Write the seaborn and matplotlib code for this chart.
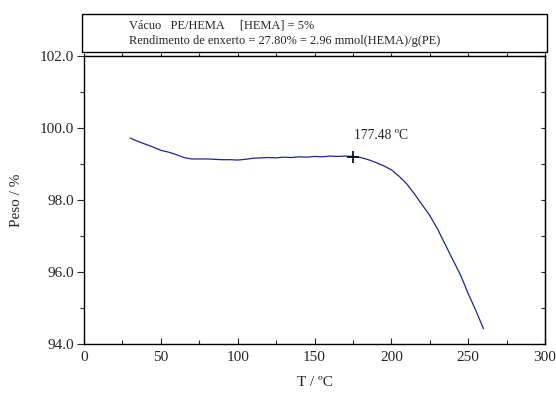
import matplotlib
matplotlib.use("Agg")
import matplotlib.pyplot as plt
from matplotlib.patches import Rectangle
from matplotlib.ticker import MultipleLocator, FormatStrFormatter, NullFormatter
import seaborn as sns
import pandas as pd

temperature = [30, 35, 40, 45, 50, 55, 60, 65, 70, 75, 80, 85, 90, 95, 100, 105, 110,
               115, 120, 125, 130, 135, 140, 145, 150, 155, 160, 165, 170, 175, 180,
               185, 190, 195, 200, 205, 210, 215, 220, 225, 230, 235, 240, 245, 250,
               255, 260]
weight = [99.72, 99.63, 99.55, 99.47, 99.38, 99.33, 99.26, 99.18, 99.14, 99.14, 99.14,
          99.13, 99.12, 99.12, 99.11, 99.13, 99.16, 99.17, 99.18, 99.17, 99.19, 99.18,
          99.20, 99.19, 99.21, 99.20, 99.22, 99.21, 99.22, 99.21, 99.18, 99.12, 99.04,
          98.95, 98.84, 98.66, 98.45, 98.17, 97.87, 97.57, 97.20, 96.77, 96.34, 95.92,
          95.40, 94.93, 94.42]
marker_t = 175.0
marker_w = 99.19
marker_label = "177.48 ºC"
legend_lines = ["Vácuo   PE/HEMA     [HEMA] = 5%",
                "Rendimento de enxerto = 27.80% = 2.96 mmol(HEMA)/g(PE)"]

df = pd.DataFrame({"T": temperature, "Peso": weight})

sns.set_style("ticks")
plt.rcParams["font.family"] = ["Liberation Serif", "DejaVu Serif"]

fig = plt.figure(figsize=(5.56, 3.94), dpi=100)
ax = fig.add_axes([84/556, 50/394, 461/556, 288/394])

sns.lineplot(data=df, x="T", y="Peso", ax=ax, color="#2222a0", linewidth=0.9)
ax.plot([marker_t], [marker_w], marker="+", color="black", markersize=8, mew=1.2)
ax.annotate(marker_label, (marker_t, marker_w), xytext=(193, 99.8),
            ha="center", va="center", fontsize=9.8)

ax.set_xlim(0, 300)
ax.set_ylim(94, 102)
ax.xaxis.set_major_locator(MultipleLocator(50))
ax.xaxis.set_minor_locator(MultipleLocator(25))
ax.yaxis.set_major_locator(MultipleLocator(2))
ax.yaxis.set_minor_locator(MultipleLocator(1))
ax.yaxis.set_major_formatter(FormatStrFormatter("%.1f"))

for s in ax.spines.values():
    s.set_linewidth(1.0)
    s.set_color("black")

ax.tick_params(axis="x", which="major", direction="in", length=4, width=0.8,
               labelsize=11, pad=5)
ax.tick_params(axis="x", which="minor", direction="in", length=3, width=0.8)
ax.tick_params(axis="y", which="major", direction="out", length=5, width=0.8,
               labelsize=11, pad=2)
ax.tick_params(axis="y", which="minor", direction="out", length=3, width=0.8)

# right-side ticks (inward) and top ticks (outward)
axr = ax.secondary_yaxis("right")
axr.yaxis.set_major_locator(MultipleLocator(1))
axr.yaxis.set_major_formatter(NullFormatter())
axr.tick_params(axis="y", direction="in", length=3, width=0.8)
axt = ax.secondary_xaxis("top")
axt.xaxis.set_major_locator(MultipleLocator(25))
axt.xaxis.set_major_formatter(NullFormatter())
axt.tick_params(axis="x", direction="out", length=2, width=0.8)

ax.set_xlabel("T / ºC", fontsize=11, labelpad=9)
ax.set_ylabel("Peso / %", fontsize=11, labelpad=12)

box = Rectangle((82/556, (394-52)/394), 465/556, 38/394, transform=fig.transFigure,
                fill=False, edgecolor="black", linewidth=1.0)
fig.patches.append(box)
fig.text(129/556, (394-25)/394, legend_lines[0], fontsize=8.9, va="center", ha="left")
fig.text(129/556, (394-41)/394, legend_lines[1], fontsize=8.9, va="center", ha="left")

fig.savefig("out.png", dpi=100)
